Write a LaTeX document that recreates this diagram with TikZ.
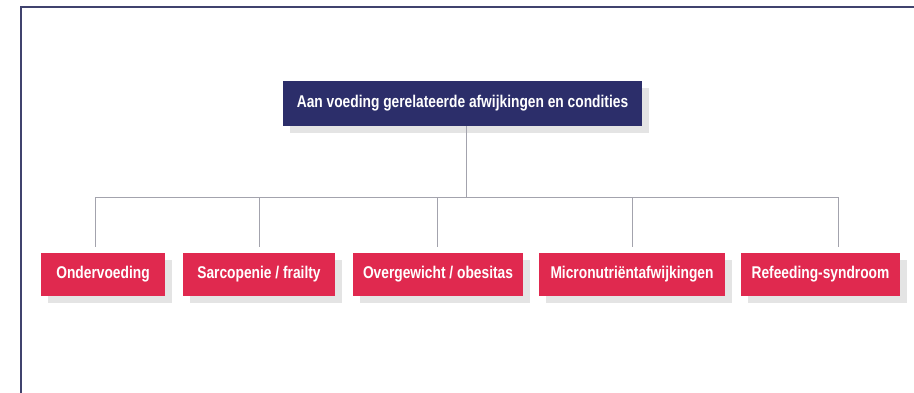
\documentclass[tikz,border=0pt]{standalone}
\usepackage{fontspec}
\newfontfamily\labfont[FakeStretch=0.81]{Liberation Sans}
\usetikzlibrary{shadows}
\definecolor{navy}{HTML}{2C2E6A}
\definecolor{crimson}{HTML}{E0294F}
\definecolor{framec}{HTML}{40436E}
\definecolor{linegray}{HTML}{A3A3AD}
\definecolor{shadowgray}{HTML}{E4E4E4}
\tikzset{
  box/.style={rectangle, inner sep=0pt, text=white,
    font=\labfont\bfseries\fontsize{17}{20}\selectfont,
    drop shadow={shadow xshift=7pt, shadow yshift=-7pt, fill=shadowgray, opacity=1}},
  topbox/.style={box, fill=navy, minimum width=359pt, minimum height=45pt},
  leaf/.style={box, fill=crimson, minimum height=43pt},
  conn/.style={draw=linegray, line width=1pt},
  frameline/.style={draw=framec, line width=2pt}
}
\begin{document}
\begin{tikzpicture}[x=1pt, y=-1pt]
\useasboundingbox (0,0) rectangle (914,392);
\fill[white] (0,0) rectangle (914,392);
\draw[frameline] (914,7) -- (21,7) -- (21,393);

\node[topbox] (top) at (462.5,103.5) {Aan voeding gerelateerde afwijkingen en condities};

\node[leaf, minimum width=124pt] (o1) at (103,274.5) {Ondervoeding};
\node[leaf, minimum width=152pt] (o2) at (259,274.5) {Sarcopenie / frailty};
\node[leaf, minimum width=170pt] (o3) at (438,274.5) {Overgewicht / obesitas};
\node[leaf, minimum width=186pt] (o4) at (632,274.5) {Micronutriëntafwijkingen};
\node[leaf, minimum width=159pt] (o5) at (820.5,274.5) {Refeeding-syndroom};

\coordinate (bus) at (466,197);
\draw[conn] (top.south -| bus) -- (bus);
\draw[conn] ([xshift=-8pt,yshift=6pt]o1.north) |- (bus);
\draw[conn] ([yshift=6pt]o2.north) |- (bus);
\draw[conn] ([xshift=-1pt,yshift=6pt]o3.north) |- (bus);
\draw[conn] ([yshift=6pt]o4.north) |- (bus);
\draw[conn] ([xshift=17.5pt,yshift=6pt]o5.north) |- (bus);
\end{tikzpicture}
\end{document}
